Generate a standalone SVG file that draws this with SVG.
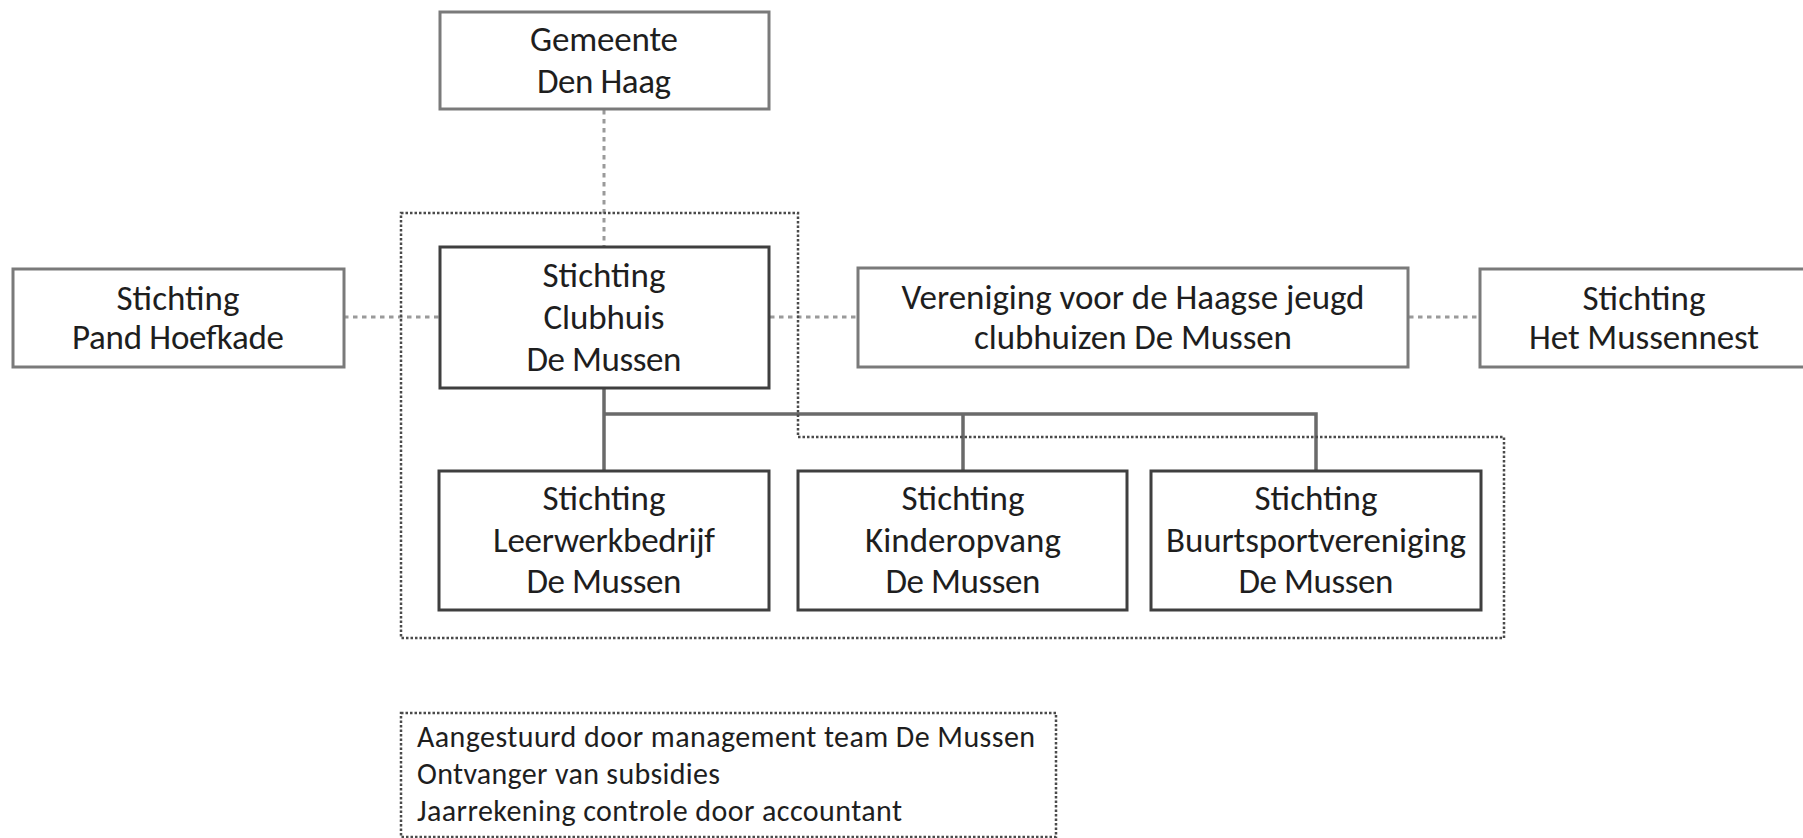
<svg xmlns="http://www.w3.org/2000/svg" width="1803" height="838" viewBox="0 0 1803 838">
<style>
  .bg { fill: #ffffff; }
  .box-outer { fill: #ffffff; stroke: #7a7a7a; stroke-width: 3; }
  .box-main { fill: #ffffff; stroke: #3f3f3f; stroke-width: 3; }
  .lbl { font-family: Carlito, Lato, "Noto Sans", sans-serif; font-size: 35px; fill: #1e1e1e; text-anchor: middle; }
  .legend-text { font-family: Carlito, Lato, "Noto Sans", sans-serif; font-size: 30px; fill: #1e1e1e; }
  .dotted-link { fill: none; stroke: #9a9a9a; stroke-width: 3; stroke-dasharray: 4.5 4.5; }
  .solid-link { fill: none; stroke: #6a6a6a; stroke-width: 3.5; }
  .group-border { fill: none; stroke: #4a4a4a; stroke-width: 2.5; stroke-dasharray: 2.5 2; }
</style>
<rect class="bg" x="0" y="0" width="1803" height="838"/>

<g id="connectors">
  <line class="dotted-link" x1="604" y1="110" x2="604" y2="246"/>
  <line class="dotted-link" x1="344" y1="317" x2="439" y2="317"/>
  <line class="dotted-link" x1="770" y1="317" x2="857" y2="317"/>
  <line class="dotted-link" x1="1409" y1="317" x2="1479" y2="317"/>
  <line class="solid-link" x1="604" y1="388" x2="604" y2="470"/>
  <polyline class="solid-link" points="604,414 1316,414 1316,470"/>
  <line class="solid-link" x1="963" y1="414" x2="963" y2="470"/>
</g>

<g id="group-dotted-outline">
  <polygon class="group-border" points="401,213 798,213 798,437 1504,437 1504,638 401,638"/>
</g>

<g id="node-gemeente">
  <rect class="box-outer" x="440" y="12" width="329" height="97"/>
  <text class="lbl" x="604" y="51" textLength="148">Gemeente</text>
  <text class="lbl" x="604" y="93" textLength="134">Den Haag</text>
</g>

<g id="node-pand-hoefkade">
  <rect class="box-outer" x="13" y="269" width="331" height="98"/>
  <text class="lbl" x="178" y="310" textLength="123">Stichting</text>
  <text class="lbl" x="178" y="349" textLength="212">Pand Hoefkade</text>
</g>

<g id="node-clubhuis">
  <rect class="box-main" x="440" y="247" width="329" height="141"/>
  <text class="lbl" x="604" y="287" textLength="123">Stichting</text>
  <text class="lbl" x="604" y="329" textLength="121">Clubhuis</text>
  <text class="lbl" x="604" y="371" textLength="155">De Mussen</text>
</g>

<g id="node-vereniging">
  <rect class="box-outer" x="858" y="268" width="550" height="99"/>
  <text class="lbl" x="1133" y="309" textLength="463">Vereniging voor de Haagse jeugd</text>
  <text class="lbl" x="1133" y="349" textLength="318">clubhuizen De Mussen</text>
</g>

<g id="node-mussennest">
  <rect class="box-outer" x="1480" y="269" width="330" height="98"/>
  <text class="lbl" x="1644" y="310" textLength="123">Stichting</text>
  <text class="lbl" x="1644" y="349" textLength="230">Het Mussennest</text>
</g>

<g id="node-leerwerkbedrijf">
  <rect class="box-main" x="439" y="471" width="330" height="139"/>
  <text class="lbl" x="604" y="510" textLength="123">Stichting</text>
  <text class="lbl" x="604" y="552" textLength="222">Leerwerkbedrijf</text>
  <text class="lbl" x="604" y="593" textLength="155">De Mussen</text>
</g>

<g id="node-kinderopvang">
  <rect class="box-main" x="798" y="471" width="329" height="139"/>
  <text class="lbl" x="963" y="510" textLength="123">Stichting</text>
  <text class="lbl" x="963" y="552" textLength="196">Kinderopvang</text>
  <text class="lbl" x="963" y="593" textLength="155">De Mussen</text>
</g>

<g id="node-buurtsport">
  <rect class="box-main" x="1151" y="471" width="330" height="139"/>
  <text class="lbl" x="1316" y="510" textLength="123">Stichting</text>
  <text class="lbl" x="1316" y="552" textLength="300">Buurtsportvereniging</text>
  <text class="lbl" x="1316" y="593" textLength="155">De Mussen</text>
</g>

<g id="legend">
  <rect class="group-border" x="401" y="713" width="655" height="124"/>
  <text class="legend-text" x="417" y="747" textLength="618">Aangestuurd door management team De Mussen</text>
  <text class="legend-text" x="417" y="784" textLength="303">Ontvanger van subsidies</text>
  <text class="legend-text" x="417" y="821" textLength="485">Jaarrekening controle door accountant</text>
</g>
</svg>
